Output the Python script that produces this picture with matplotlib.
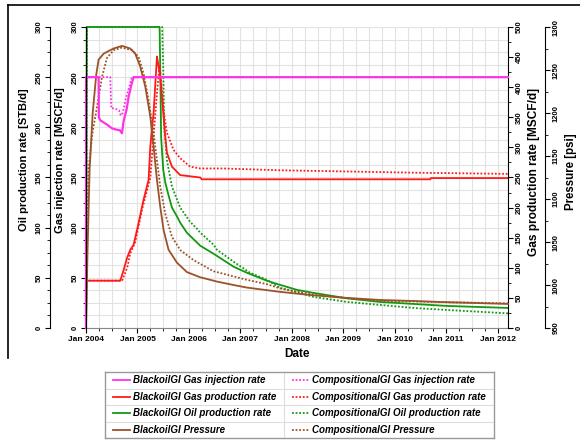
import matplotlib
matplotlib.use('Agg')
import matplotlib.pyplot as plt
from matplotlib.lines import Line2D
from matplotlib.ticker import MultipleLocator, FixedLocator

plt.rcParams['font.family'] = ['Liberation Sans', 'DejaVu Sans']
plt.rcParams['font.weight'] = 'bold'

# ---- data (time in decimal years) ----
years = list(range(2004, 2013))
year_labels = ['Jan %d' % y for y in years]

# gas injection rate [MSCF/d]
inj_bo_t = [2004.0, 2004.003, 2004.245, 2004.25, 2004.278, 2004.40, 2004.505, 2004.569, 2004.66,
            2004.699, 2004.73, 2004.79, 2004.827, 2004.88, 2004.924, 2012.2]
inj_bo_v = [0, 250, 250, 210, 207, 203, 199, 198, 197, 194, 206, 218, 230, 242, 250, 250]
inj_co_t = [2004.0, 2004.003, 2004.472, 2004.49, 2004.55, 2004.64, 2004.666, 2004.699, 2004.73,
            2004.77, 2004.827, 2004.893, 2012.2]
inj_co_v = [0, 250, 250, 219, 219, 217, 213, 212, 218, 228, 238, 250, 250]

# gas production rate [MSCF/d]
gas_bo_t = [2004.0, 2004.006, 2004.666, 2004.73, 2004.796, 2004.86, 2004.924, 2005.021, 2005.118,
            2005.216, 2005.249, 2005.313, 2005.379, 2005.40, 2005.443, 2005.54, 2005.573, 2005.67,
            2005.83, 2006.22, 2006.25, 2010.69, 2010.70, 2012.2]
gas_bo_v = [0, 78.6, 78.6, 96, 116, 130, 138, 174, 213, 246, 301, 357, 451, 440, 417, 318, 291, 268,
            254, 250, 247, 247, 249, 249]
gas_co_t = [2004.0, 2004.006, 2004.70, 2004.80, 2004.86, 2004.957, 2005.087, 2005.25, 2005.313,
            2005.379, 2005.43, 2005.47, 2005.507, 2005.573, 2005.701, 2005.831, 2006.024, 2006.22,
            2006.67, 2007.77, 2009.07, 2010.36, 2012.2]
gas_co_v = [0, 78.6, 78.6, 100, 124, 143, 196, 250, 320, 390, 437, 400, 360, 324, 296, 282, 268, 265,
            265, 262, 260, 258, 256]

# oil production rate [STB/d]
oil_bo_t = [2004.0, 2004.015, 2005.43, 2005.445, 2005.46, 2005.50, 2005.54, 2005.60, 2005.67,
            2005.77, 2005.83, 2005.96, 2006.22, 2006.48, 2006.87, 2007.13, 2007.52, 2007.77, 2008.10,
            2008.42, 2009.07, 2009.71, 2010.36, 2011.01, 2012.2]
oil_bo_v = [0, 300, 300, 250, 190, 158, 145, 133, 120, 111, 105, 95, 82, 74, 61, 55, 47, 43, 38, 35,
            29.6, 26, 24, 22, 20]
oil_co_t = [2004.0, 2004.02, 2005.48, 2005.50, 2005.52, 2005.573, 2005.67, 2005.83, 2006.02,
            2006.155, 2006.22, 2006.48, 2006.544, 2006.87, 2007.13, 2007.19, 2007.515, 2007.77,
            2008.42, 2009.07, 2009.71, 2010.36, 2011.01, 2012.2]
oil_co_v = [0, 300, 300, 260, 200, 167, 141, 120, 106, 99, 95, 83, 78, 66, 57, 55, 48, 40, 31, 26, 23,
            20, 18, 14.6]

# pressure [psi]
pr_bo_t = [2004.0, 2004.03, 2004.07, 2004.13, 2004.20, 2004.245, 2004.342, 2004.536, 2004.699,
           2004.86, 2004.957, 2005.054, 2005.151, 2005.249, 2005.313, 2005.379, 2005.443, 2005.507,
           2005.604, 2005.767, 2005.961, 2006.219, 2006.544, 2006.866, 2007.126, 2007.515, 2007.773,
           2008.097, 2008.419, 2009.068, 2009.715, 2010.361, 2011.010, 2012.2]
pr_bo_v = [950, 1040, 1134, 1200, 1245, 1262, 1269, 1275, 1278, 1275, 1269, 1254, 1231, 1196, 1161,
           1122, 1091, 1064, 1041, 1026, 1015, 1009, 1004, 1000, 997, 994, 992, 990, 988, 985, 982.6,
           981.4, 980, 978]
pr_co_t = [2004.0, 2004.02, 2004.05, 2004.12, 2004.214, 2004.311, 2004.408, 2004.536, 2004.699,
           2004.893, 2005.021, 2005.118, 2005.216, 2005.313, 2005.379, 2005.443, 2005.54, 2005.67,
           2005.831, 2006.089, 2006.478, 2006.866, 2007.126, 2007.515, 2007.773, 2008.419, 2009.068,
           2009.715, 2011.01, 2012.2]
pr_co_v = [950, 1060, 1134, 1175, 1207, 1242, 1264, 1273, 1276, 1273, 1265.5, 1246, 1215, 1177, 1145,
           1114, 1083, 1056, 1040.7, 1029, 1016, 1010, 1006, 1001, 996, 989, 984.5, 981.7, 980, 978.7]

PINK, RED, GREEN, BROWN = '#ff33e6', '#ff1a1a', '#119911', '#9c5228'
SOLID, DOTTED = '-', (0, (1, 1))

W, H = 580, 444
fig = plt.figure(figsize=(W / 100, H / 100), dpi=100)
ax_oil = fig.add_axes([86 / W, 1 - 328 / H, 422 / W, 301 / H])
ax_gas = ax_oil.twinx()
ax_pr = ax_oil.twinx()
ax_inj = ax_oil.twinx()

for a in (ax_oil, ax_gas, ax_pr, ax_inj):
    for s in a.spines.values():
        s.set_visible(False)
    a.tick_params(axis='y', which='major', length=3.5, width=0.8, labelsize=5.5, labelrotation=90, pad=2)
    a.tick_params(axis='y', which='minor', length=2, width=0.6)

lw = 1.3
ax_oil.plot(oil_bo_t, oil_bo_v, color=GREEN, lw=lw, ls=SOLID, clip_on=False)
ax_oil.plot(oil_co_t, oil_co_v, color=GREEN, lw=lw, ls=DOTTED, clip_on=False)
ax_gas.plot(gas_bo_t, gas_bo_v, color=RED, lw=lw, ls=SOLID, clip_on=False)
ax_gas.plot(gas_co_t, gas_co_v, color=RED, lw=lw, ls=DOTTED, clip_on=False)
ax_pr.plot(pr_bo_t, pr_bo_v, color=BROWN, lw=lw, ls=SOLID, clip_on=False)
ax_pr.plot(pr_co_t, pr_co_v, color=BROWN, lw=lw, ls=DOTTED, clip_on=False)
ax_inj.plot(inj_bo_t, inj_bo_v, color=PINK, lw=lw + 0.3, ls=SOLID, clip_on=False)
ax_inj.plot(inj_co_t, inj_co_v, color=PINK, lw=lw, ls=DOTTED, clip_on=False)

# x axis
ax_oil.set_xlim(2004, 2012.2)
ax_oil.xaxis.set_major_locator(FixedLocator(years))
ax_oil.set_xticklabels(year_labels)
ax_oil.xaxis.set_minor_locator(MultipleLocator(0.25))
ax_oil.tick_params(axis='x', which='major', length=3.5, width=0.8, labelsize=6, pad=2)
ax_oil.tick_params(axis='x', which='minor', length=2, width=0.6)
ax_oil.spines['bottom'].set_visible(True)
ax_oil.spines['bottom'].set_color('#888888')
ax_oil.set_xlabel('Date', fontsize=8.5, fontweight='bold', labelpad=4)
ax_oil.grid(True, which='both', color='#e2e2e2', lw=0.8)
ax_oil.set_axisbelow(True)

# oil axis (outer left)
ax_oil.set_ylim(0, 300)
ax_oil.yaxis.set_major_locator(MultipleLocator(50))
ax_oil.yaxis.set_minor_locator(MultipleLocator(12.5))
ax_oil.spines['left'].set_visible(True)
ax_oil.spines['left'].set_position(('axes', -0.0853))
ax_oil.set_ylabel('Oil production rate [STB/d]', fontsize=8, fontweight='bold')
ax_oil.yaxis.set_label_coords(-0.135, 0.558)

# gas injection axis (inner left)
ax_inj.set_ylim(0, 300)
ax_inj.yaxis.set_major_locator(MultipleLocator(50))
ax_inj.yaxis.set_minor_locator(MultipleLocator(12.5))
ax_inj.yaxis.set_ticks_position('left')
ax_inj.yaxis.set_label_position('left')
ax_inj.spines['left'].set_visible(True)
ax_inj.set_ylabel('Gas injection rate [MSCF/d]', fontsize=8, fontweight='bold')
ax_inj.yaxis.set_label_coords(-0.05, 0.558)

# gas production axis (inner right)
ax_gas.set_ylim(0, 500)
ax_gas.yaxis.set_major_locator(MultipleLocator(50))
ax_gas.yaxis.set_minor_locator(MultipleLocator(25))
ax_gas.spines['right'].set_visible(True)
ax_gas.set_ylabel('Gas production rate [MSCF/d]', fontsize=8.6, fontweight='bold')
ax_gas.yaxis.set_label_coords(1.048, 0.518)

# pressure axis (outer right)
ax_pr.set_ylim(950, 1300)
ax_pr.yaxis.set_major_locator(MultipleLocator(50))
ax_pr.yaxis.set_minor_locator(MultipleLocator(25))
ax_pr.spines['right'].set_visible(True)
ax_pr.spines['right'].set_position(('axes', 1.088))
ax_pr.set_ylabel('Pressure [psi]', fontsize=8.3, fontweight='bold')
ax_pr.yaxis.set_label_coords(1.135, 0.518)

for a in (ax_oil, ax_gas, ax_pr, ax_inj):
    for lbl in a.get_yticklabels():
        lbl.set_va('center')

# outer frame
fig.add_artist(Line2D([8 / W, 1.0], [1 - 5 / H, 1 - 5 / H], color='black', lw=1.2))
fig.add_artist(Line2D([8 / W, 8 / W], [1 - 5 / H, 1 - 358 / H], color='black', lw=1.2))

# legend table
series = [
    ('BlackoilGI Gas injection rate', PINK, SOLID),
    ('BlackoilGI Gas production rate', RED, SOLID),
    ('BlackoilGI Oil production rate', GREEN, SOLID),
    ('BlackoilGI Pressure', BROWN, SOLID),
    ('CompositionalGI Gas injection rate', PINK, DOTTED),
    ('CompositionalGI Gas production rate', RED, DOTTED),
    ('CompositionalGI Oil production rate', GREEN, DOTTED),
    ('CompositionalGI Pressure', BROWN, DOTTED),
]
lx0, ly0, lx1, ly1 = 105, 372, 494, 438
leg = fig.add_axes([lx0 / W, 1 - ly1 / H, (lx1 - lx0) / W, (ly1 - ly0) / H])
leg.set_xlim(lx0, lx1)
leg.set_ylim(ly1, ly0)
leg.set_xticks([])
leg.set_yticks([])
for s in leg.spines.values():
    s.set_color('#999999')
    s.set_linewidth(1.0)
nrows = 4
row_h = (ly1 - ly0) / nrows
col_x = [lx0, 284]
for r in range(1, nrows):
    leg.plot([lx0, lx1], [ly0 + r * row_h] * 2, color='#dddddd', lw=0.8)
leg.plot([284, 284], [ly0, ly1], color='#dddddd', lw=0.8)
for i, (name, col, ls) in enumerate(series):
    c, r = divmod(i, nrows)
    yc = ly0 + (r + 0.5) * row_h
    x0 = col_x[c] + 8
    leg.plot([x0, x0 + 17], [yc, yc], color=col, lw=1.3, ls=ls)
    leg.text(x0 + 20, yc, name, fontsize=7, fontweight='bold', style='italic', va='center', ha='left')

fig.savefig('out.png', dpi=100)
